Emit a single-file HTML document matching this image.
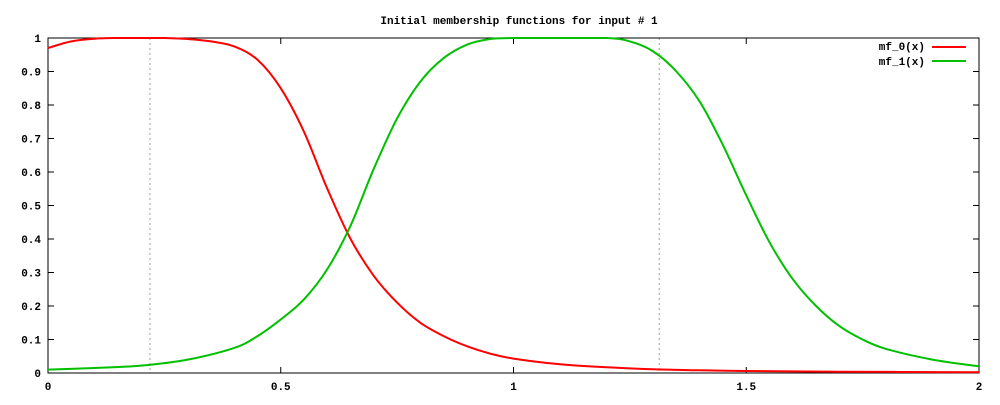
<!DOCTYPE html>
<html><head><meta charset="utf-8"><style>
html,body{margin:0;padding:0;background:#fff;}
svg text{font-family:"Liberation Mono",monospace;font-weight:bold;font-size:11px;fill:#000;}
</style></head><body>
<svg width="1000" height="400" xmlns="http://www.w3.org/2000/svg">
<text x="519" y="24" text-anchor="middle">Initial membership functions for input # 1</text>
<g id="grid"></g>
<g id="axes"></g>
<g id="series"></g>
<g>
<text x="925" y="50" text-anchor="end">mf_0(x)</text>
<line x1="932" y1="47" x2="966" y2="47" stroke="#ff0000" stroke-width="2"/>
<text x="925" y="65" text-anchor="end">mf_1(x)</text>
<line x1="932" y1="61" x2="966" y2="61" stroke="#00c000" stroke-width="2"/>
</g>
</svg>
<script>
const xTicks=[0,0.5,1,1.5,2];
const xTickLabels=["0","0.5","1","1.5","2"];
const yTicks=[0,0.1,0.2,0.3,0.4,0.5,0.6,0.7,0.8,0.9,1];
const yTickLabels=["0","0.1","0.2","0.3","0.4","0.5","0.6","0.7","0.8","0.9","1"];
const centers=[0.219,1.313];
const xs0=[0,0.05,0.1,0.15,0.2,0.25,0.3,0.35,0.4,0.45,0.5,0.55,0.6,0.65,0.7,0.75,0.8,0.85,0.9,0.95,1.0,1.1,1.2,1.3,1.4,1.5,1.7,2.0];
const mf0=[0.97,0.99,0.998,1,1,1,0.997,0.99,0.975,0.935,0.85,0.72,0.55,0.40,0.29,0.21,0.15,0.11,0.08,0.058,0.043,0.026,0.017,0.011,0.008,0.006,0.004,0.002];
const xs1=[0,0.1,0.2,0.3,0.4,0.45,0.5,0.55,0.6,0.65,0.7,0.75,0.8,0.85,0.9,0.95,1.0,1.1,1.2,1.25,1.3,1.35,1.4,1.45,1.5,1.55,1.6,1.65,1.7,1.75,1.8,1.9,2.0];
const mf1=[0.01,0.015,0.022,0.04,0.075,0.11,0.16,0.22,0.31,0.44,0.61,0.76,0.87,0.94,0.98,0.997,1,1,1,0.99,0.96,0.9,0.81,0.68,0.53,0.39,0.28,0.2,0.14,0.1,0.072,0.04,0.02];
const L=48,R=979,T=38,B=373;
const sx=v=>L+(v-0)/(2-0)*(R-L);
const sy=v=>B-(v-0)/(1-0)*(B-T);
const NS="http://www.w3.org/2000/svg";
function mk(tag,attrs,parent){const e=document.createElementNS(NS,tag);for(const k in attrs)e.setAttribute(k,attrs[k]);parent.appendChild(e);return e;}
const grid=document.getElementById('grid'),axes=document.getElementById('axes'),series=document.getElementById('series');
centers.forEach(c=>{const l=mk('line',{x1:sx(c),y1:T,x2:sx(c),y2:B,stroke:'#a0a0a0','stroke-width':1,'stroke-dasharray':'2,3'},grid);

});
const fr=mk('rect',{x:L,y:T,width:R-L,height:B-T,fill:'none',stroke:'#000','stroke-width':1},axes);


yTicks.forEach((v,i)=>{const y=sy(v);
mk('line',{x1:L,y1:y,x2:L+6,y2:y,stroke:'#000'},axes);mk('line',{x1:R,y1:y,x2:R-6,y2:y,stroke:'#000'},axes);
const t=mk('text',{x:L-7,y:y+4,'text-anchor':'end'},axes);t.textContent=yTickLabels[i];

});
xTicks.forEach((v,i)=>{const x=sx(v);
mk('line',{x1:x,y1:B,x2:x,y2:B-6,stroke:'#000'},axes);mk('line',{x1:x,y1:T,x2:x,y2:T+6,stroke:'#000'},axes);
const t=mk('text',{x:x,y:B+17,'text-anchor':'middle'},axes);t.textContent=xTickLabels[i];

});
function path(xs,ys){
  const P=xs.map((x,i)=>[sx(x),sy(ys[i])]);
  let d='M'+P[0][0].toFixed(1)+','+P[0][1].toFixed(1);
  for(let i=0;i<P.length-1;i++){
    const p0=P[Math.max(0,i-1)],p1=P[i],p2=P[i+1],p3=P[Math.min(P.length-1,i+2)];
    const c1=[p1[0]+(p2[0]-p0[0])/6,p1[1]+(p2[1]-p0[1])/6];
    const c2=[p2[0]-(p3[0]-p1[0])/6,p2[1]-(p3[1]-p1[1])/6];
    c1[1]=Math.max(T,Math.min(B,c1[1]));c2[1]=Math.max(T,Math.min(B,c2[1]));
    d+='C'+c1[0].toFixed(1)+','+c1[1].toFixed(1)+' '+c2[0].toFixed(1)+','+c2[1].toFixed(1)+' '+p2[0].toFixed(1)+','+p2[1].toFixed(1);
  }
  return d;
}
const p0=mk('path',{d:path(xs0,mf0),fill:'none',stroke:'#ff0000','stroke-width':2},series);


const p1=mk('path',{d:path(xs1,mf1),fill:'none',stroke:'#00c000','stroke-width':2},series);


</script>
</body></html>
